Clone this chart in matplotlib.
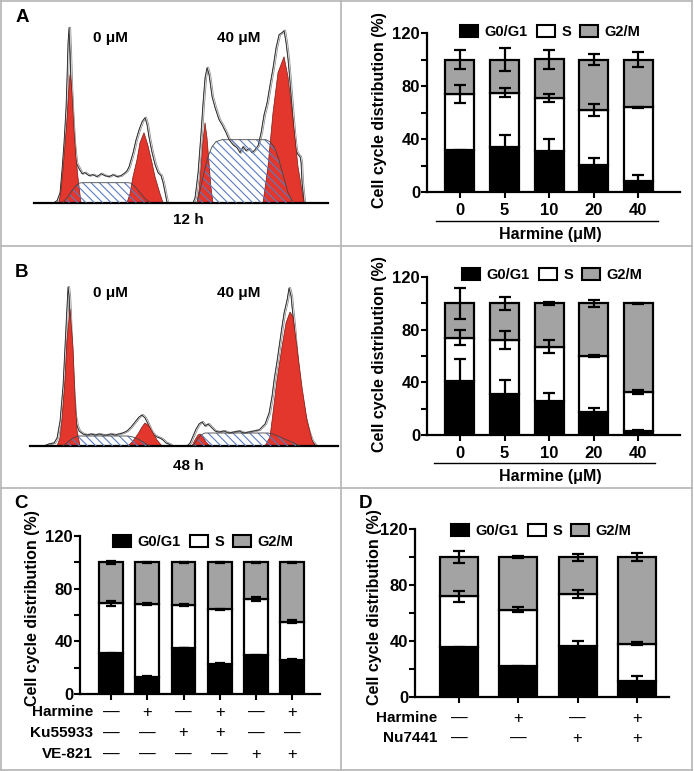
import numpy as np
import matplotlib
matplotlib.use("Agg")
import matplotlib.pyplot as plt
from matplotlib.patches import Patch
from matplotlib.lines import Line2D
from matplotlib.ticker import FixedLocator
import matplotlib.transforms as mtransforms

plt.rcParams['font.family'] = ['Liberation Sans', 'DejaVu Sans']
plt.rcParams['font.weight'] = 'bold'
plt.rcParams['hatch.linewidth'] = 0.8

# ---------------- data: bar charts ----------------
harmine_doses = ['0', '5', '10', '20', '40']

a_g0 = [31.4, 33.7, 30.7, 20.6, 8.0]
a_s = [42.6, 41.3, 40.3, 41.4, 56.0]
a_g2m = [26.0, 25.0, 29.0, 38.0, 36.0]
a_g0_err = [0.5, 9.0, 9.0, 5.0, 5.0]
a_s_err = [6.5, 3.5, 3.0, 4.7, 0.5]
a_g2m_err = [7.0, 9.0, 7.0, 4.0, 6.0]

b_g0 = [41.0, 31.0, 26.0, 17.7, 3.0]
b_s = [33.0, 41.0, 41.0, 42.3, 30.0]
b_g2m = [26.0, 28.0, 33.0, 40.0, 67.0]
b_g0_err = [17.0, 11.0, 6.0, 3.0, 1.0]
b_s_err = [6.0, 7.0, 5.0, 0.5, 1.5]
b_g2m_err = [12.0, 5.0, 1.0, 2.5, 0.5]

c_g0 = [31.0, 13.0, 35.0, 23.0, 29.5, 26.2]
c_s = [38.0, 55.3, 32.5, 41.3, 42.8, 28.8]
c_g2m = [31.0, 31.7, 32.5, 35.7, 27.7, 45.0]
c_g0_err = [0.5, 0.5, 0.3, 0.5, 0.5, 0.3]
c_s_err = [2.0, 1.0, 1.0, 0.5, 1.5, 1.0]
c_g2m_err = [1.0, 0.5, 0.3, 0.5, 0.5, 0.5]
c_harmine = ['—', '+', '—', '+', '—', '+']
c_ku55933 = ['—', '—', '+', '+', '—', '—']
c_ve821 = ['—', '—', '—', '—', '+', '+']

d_g0 = [35.4, 21.9, 36.4, 11.2]
d_s = [36.6, 40.6, 37.1, 26.8]
d_g2m = [28.0, 37.5, 26.5, 62.0]
d_g0_err = [0.3, 0.5, 3.5, 4.0]
d_s_err = [4.0, 2.0, 3.0, 1.0]
d_g2m_err = [4.0, 1.0, 2.5, 3.0]
d_harmine = ['—', '+', '—', '+']
d_nu7441 = ['—', '—', '+', '+']

# ---------------- data: flow histograms (channel, count) ----------------
a0_trace_x = [55,58,61,63,65,67,68,69,70,71,72,73,75,77,80,83,86,90,94,98,102,106,110,114,118,122,126,128,130,134,137,140,143,146,148,150,153,156,159,162,164,166,168]
a0_trace_y = [0,2,10,33,60,95,125,160,175,150,118,95,60,40,34,29,30,27,28,26,29,27,26,28,26,27,30,32,36,50,63,73,81,85,78,65,50,38,30,27,20,10,0]
a0_g1_x = [59,61,63,65,67,69,70,71,72,74,76,78,81]
a0_g1_y = [0,12,33,58,83,116,128,122,110,73,45,25,0]
a0_g2_x = [127,130,133,137,140,144,148,152,155,160,163]
a0_g2_y = [0,9,26,43,60,70,57,40,26,9,0]
a0_s_x = [63,68,72,76,79,82,128,131,135,140,145,150]
a0_s_y = [0,6,12,17,19.5,20,20,19.5,16,10,4,0]

a40_trace_x = [194,196,199,202,204,206,208,210,213,216,220,223,227,230,234,238,241,244,247,250,253,256,259,262,265,268,271,274,277,280,283,285,287,289,291,293,295,297,299,301,302,303,305]
a40_trace_y = [0,5,30,70,100,125,135,128,106,95,83,78,70,63,58,55,50,56,52,54,50,53,57,70,88,100,118,135,155,168,170,172,160,143,120,95,70,52,48,46,40,20,0]
a40_g1_x = [197,199,201,203,205,207,209,211,213]
a40_g1_y = [0,12,35,62,80,65,40,15,0]
a40_g2_x = [263,268,273,278,284,288,293,298,304]
a40_g2_y = [0,36,90,130,146,126,83,36,0]
a40_s_x = [197,200,204,208,212,216,222,266,270,274,278,283,288,293]
a40_s_y = [0,12,30,46,56,61,63,63,61,56,46,28,10,0]

b0_trace_x = [45,50,55,58,61,64,66,68,69,70,71,72,74,76,78,80,84,88,92,96,100,104,108,112,116,120,124,128,132,136,140,143,146,149,152,155,158,161,164,167,170,173]
b0_trace_y = [0,2,3,8,25,60,100,140,159,150,130,100,60,30,20,15,12,11,12,11,12,11,11,12,11,12,13,15,19,24,29,31,28,22,15,11,9,8,6,3,2,0]
b0_g1_x = [57,60,62,65,67,70,73,75,77,80]
b0_g1_y = [0,8,26,66,106,137,99,49,16,0]
b0_g2_x = [128,133,138,142,145,149,153,157,162]
b0_g2_y = [0,5,12,19,23,20,13,6,0]
b0_s_x = [63,68,73,78,82,128,133,138,143,150]
b0_s_y = [0,4,8,10,10,10,9,7,4,0]

b40_trace_x = [188,191,194,197,200,203,206,209,212,216,220,225,230,235,240,245,250,255,260,263,266,270,273,275,278,280,283,285,288,290,292,293,295,298,301,305,308,310,313,317]
b40_trace_y = [0,3,10,17,22,24,20,22,19,15,14,15,13,14,15,13,14,15,16,19,22,33,50,66,85,99,120,133,146,158,150,139,120,83,55,33,20,13,5,0]
b40_g1_x = [192,195,198,200,203,206,210]
b40_g1_y = [0,6,11,12,9,4,0]
b40_g2_x = [265,270,273,277,282,286,290,293,297,302,307,312,315]
b40_g2_y = [0,9,33,66,99,123,134,129,99,59,26,6,0]
b40_s_x = [193,197,201,205,210,268,273,280,287,294,300]
b40_s_y = [0,6,11,13,13,13,12,9,6,3,0]

# ---------------- figure ----------------
W, H = 694, 771
fig = plt.figure(figsize=(W / 100, H / 100), dpi=100)

def rect(left, right, top, bottom):
    return [left / W, 1 - bottom / H, (right - left) / W, (bottom - top) / H]

def fx(x):
    return x / W

def fy(y):
    return 1 - y / H

GRAY = '#a3a3a3'
BORDER = '#b4b4b4'
TICK_FS = 12
LABEL_FS = 11.5
LEG_FS = 10.5

# panel borders
for (x0, y0, x1, y1) in [(1, 1, 692, 1), (1, 770, 692, 770), (1, 1, 1, 770), (692, 1, 692, 770),
                         (1, 246, 692, 246), (1, 488, 692, 488), (341, 1, 341, 770)]:
    fig.add_artist(Line2D([fx(x0), fx(x1)], [fy(y0), fy(y1)], color=BORDER, lw=1.2,
                          transform=fig.transFigure))


def histogram(ax, traces):
    for tx, ty, gx, gy, g2x, g2y, sx, sy in traces:
        ax.plot(tx, ty, color='#8a8a8a', lw=1.5, zorder=1)
        ax.plot(tx, ty, color='white', lw=0.4, zorder=1.1)
        off = mtransforms.offset_copy(ax.transData, fig=fig, x=-1, y=0, units='dots')
        ax.plot(tx, ty, color='#222222', lw=0.6, zorder=1.2, transform=off)
        ax.fill(gx, gy, facecolor='#e3362c', edgecolor='#7a1a14', lw=0.5, zorder=2)
        ax.fill(g2x, g2y, facecolor='#e3362c', edgecolor='#7a1a14', lw=0.5, zorder=2)
        ax.fill(sx, sy, facecolor='none', edgecolor='#5a7cc0', hatch='\\' * 4, lw=0, zorder=3)
        ax.plot(sx, sy, color='#444444', lw=0.6, zorder=3.1)
    for side in ['top', 'right', 'left']:
        ax.spines[side].set_visible(False)
    ax.spines['bottom'].set_linewidth(1.6)
    ax.set_xticks([])
    ax.set_yticks([])
    ax.patch.set_alpha(0)


axh_a = fig.add_axes(rect(34, 328, 20, 202.7))
axh_a.set_xlim(34, 328)
axh_a.set_ylim(0, 182.7)
histogram(axh_a, [
    (a0_trace_x, a0_trace_y, a0_g1_x, a0_g1_y, a0_g2_x, a0_g2_y, a0_s_x, a0_s_y),
    (a40_trace_x, a40_trace_y, a40_g1_x, a40_g1_y, a40_g2_x, a40_g2_y, a40_s_x, a40_s_y),
])

axh_b = fig.add_axes(rect(30, 338, 276, 446))
axh_b.set_xlim(30, 338)
axh_b.set_ylim(0, 170)
histogram(axh_b, [
    (b0_trace_x, b0_trace_y, b0_g1_x, b0_g1_y, b0_g2_x, b0_g2_y, b0_s_x, b0_s_y),
    (b40_trace_x, b40_trace_y, b40_g1_x, b40_g1_y, b40_g2_x, b40_g2_y, b40_s_x, b40_s_y),
])

hist_fs = 11
fig.text(fx(110), fy(38), '0 μM', ha='center', va='center', fontsize=hist_fs, fontweight='bold')
fig.text(fx(239), fy(38), '40 μM', ha='center', va='center', fontsize=hist_fs, fontweight='bold')
fig.text(fx(188), fy(220), '12 h', ha='center', va='center', fontsize=hist_fs, fontweight='bold')
fig.text(fx(110), fy(293), '0 μM', ha='center', va='center', fontsize=hist_fs, fontweight='bold')
fig.text(fx(239), fy(293), '40 μM', ha='center', va='center', fontsize=hist_fs, fontweight='bold')
fig.text(fx(188), fy(466), '48 h', ha='center', va='center', fontsize=hist_fs, fontweight='bold')

for lab, x, y in [('A', 22, 18), ('B', 22, 272), ('C', 21, 503), ('D', 365, 503)]:
    fig.text(fx(x), fy(y), lab, ha='center', va='center', fontsize=13.5, fontweight='bold')


def bar_panel(axrect, xlim, width, g0, s, g2m, e0, es, e2, legend_xy, ylabel_xy, capsize):
    ax = fig.add_axes(axrect)
    n = len(g0)
    x = np.arange(n)
    g0 = np.array(g0)
    s = np.array(s)
    g2m = np.array(g2m)
    kw = dict(width=width, edgecolor='black', linewidth=1.6, zorder=2)
    ax.bar(x, g0, color='black', **kw)
    ax.bar(x, s, bottom=g0, color='white', **kw)
    ax.bar(x, g2m, bottom=g0 + s, color=GRAY, **kw)
    ekw = dict(fmt='none', ecolor='black', elinewidth=1.6, capsize=capsize, capthick=1.6, zorder=3)
    ax.errorbar(x, g0, yerr=e0, **ekw)
    ax.errorbar(x, g0 + s, yerr=es, **ekw)
    ax.errorbar(x, g0 + s + g2m, yerr=e2, **ekw)
    ax.set_xlim(*xlim)
    ax.set_ylim(0, 120)
    ax.set_yticks([0, 40, 80, 120])
    ax.yaxis.set_minor_locator(FixedLocator([20, 60, 100]))
    ax.set_xticks(x)
    for side in ['top', 'right']:
        ax.spines[side].set_visible(False)
    for side in ['left', 'bottom']:
        ax.spines[side].set_linewidth(1.6)
    ax.tick_params(axis='y', which='both', length=4, width=1.5, pad=1, labelsize=TICK_FS)
    ax.tick_params(axis='x', length=4, width=1.5, pad=4, labelsize=TICK_FS)
    for t in ax.get_yticklabels():
        t.set_fontweight('bold')
    handles = [Patch(facecolor='black', edgecolor='black', lw=1.5, label='G0/G1'),
               Patch(facecolor='white', edgecolor='black', lw=1.5, label='S'),
               Patch(facecolor=GRAY, edgecolor='black', lw=1.5, label='G2/M')]
    ax.legend(handles=handles, loc='center left', bbox_to_anchor=(fx(legend_xy[0]), fy(legend_xy[1])),
              bbox_transform=fig.transFigure, ncol=3, frameon=False, borderpad=0, borderaxespad=0,
              handlelength=1.25, handleheight=0.8, handletextpad=0.45, columnspacing=0.6,
              prop={'weight': 'bold', 'size': LEG_FS})
    fig.text(fx(ylabel_xy[0]), fy(ylabel_xy[1]), 'Cell cycle distribution (%)', rotation=90,
             ha='center', va='center', fontsize=LABEL_FS, fontweight='bold')
    return ax


# Panel A bars
ax_a = bar_panel(rect(427, 680, 33, 192), (-0.74, 4.94), 0.65, a_g0, a_s, a_g2m,
                 a_g0_err, a_s_err, a_g2m_err, (460, 32), (380, 110), 4.5)
ax_a.set_xticklabels(harmine_doses, fontweight='bold')
fig.add_artist(Line2D([fx(436), fx(658)], [fy(221), fy(221)], color='black', lw=1.0,
                      transform=fig.transFigure))
fig.text(fx(550), fy(235), 'Harmine (μM)', ha='center', va='center', fontsize=LABEL_FS, fontweight='bold')

# Panel B bars
ax_b = bar_panel(rect(427, 680, 277, 435), (-0.74, 4.94), 0.65, b_g0, b_s, b_g2m,
                 b_g0_err, b_s_err, b_g2m_err, (462, 275), (380, 354), 4.5)
ax_b.set_xticklabels(harmine_doses, fontweight='bold')
fig.add_artist(Line2D([fx(434), fx(655)], [fy(463), fy(463)], color='black', lw=1.0,
                      transform=fig.transFigure))
fig.text(fx(550), fy(477), 'Harmine (μM)', ha='center', va='center', fontsize=LABEL_FS, fontweight='bold')

# Panel C bars
ax_c = bar_panel(rect(80, 320, 536, 694), (-0.86, 5.77), 0.66, c_g0, c_s, c_g2m,
                 c_g0_err, c_s_err, c_g2m_err, (113, 542), (33, 608), 3.5)
ax_c.set_xticklabels([])
tr_c = mtransforms.blended_transform_factory(ax_c.transData, fig.transFigure)
for row, ypx, name in [(c_harmine, 712, 'Harmine'), (c_ku55933, 733, 'Ku55933'), (c_ve821, 754, 'VE-821')]:
    fig.text(fx(93), fy(ypx), name, ha='right', va='center', fontsize=11, fontweight='bold')
    for i, sgn in enumerate(row):
        ax_c.text(i, fy(ypx), sgn, transform=tr_c, ha='center', va='center', fontsize=12,
                  fontweight='normal')

# Panel D bars
ax_d = bar_panel(rect(415, 669, 529, 697), (-0.74, 3.54), 0.64, d_g0, d_s, d_g2m,
                 d_g0_err, d_s_err, d_g2m_err, (451, 531), (374, 607), 4.5)
ax_d.set_xticklabels([])
tr_d = mtransforms.blended_transform_factory(ax_d.transData, fig.transFigure)
for row, ypx, name in [(d_harmine, 718, 'Harmine'), (d_nu7441, 738, 'Nu7441')]:
    fig.text(fx(437), fy(ypx), name, ha='right', va='center', fontsize=11, fontweight='bold')
    for i, sgn in enumerate(row):
        ax_d.text(i, fy(ypx), sgn, transform=tr_d, ha='center', va='center', fontsize=12,
                  fontweight='normal')

fig.savefig('out.png', dpi=100)
